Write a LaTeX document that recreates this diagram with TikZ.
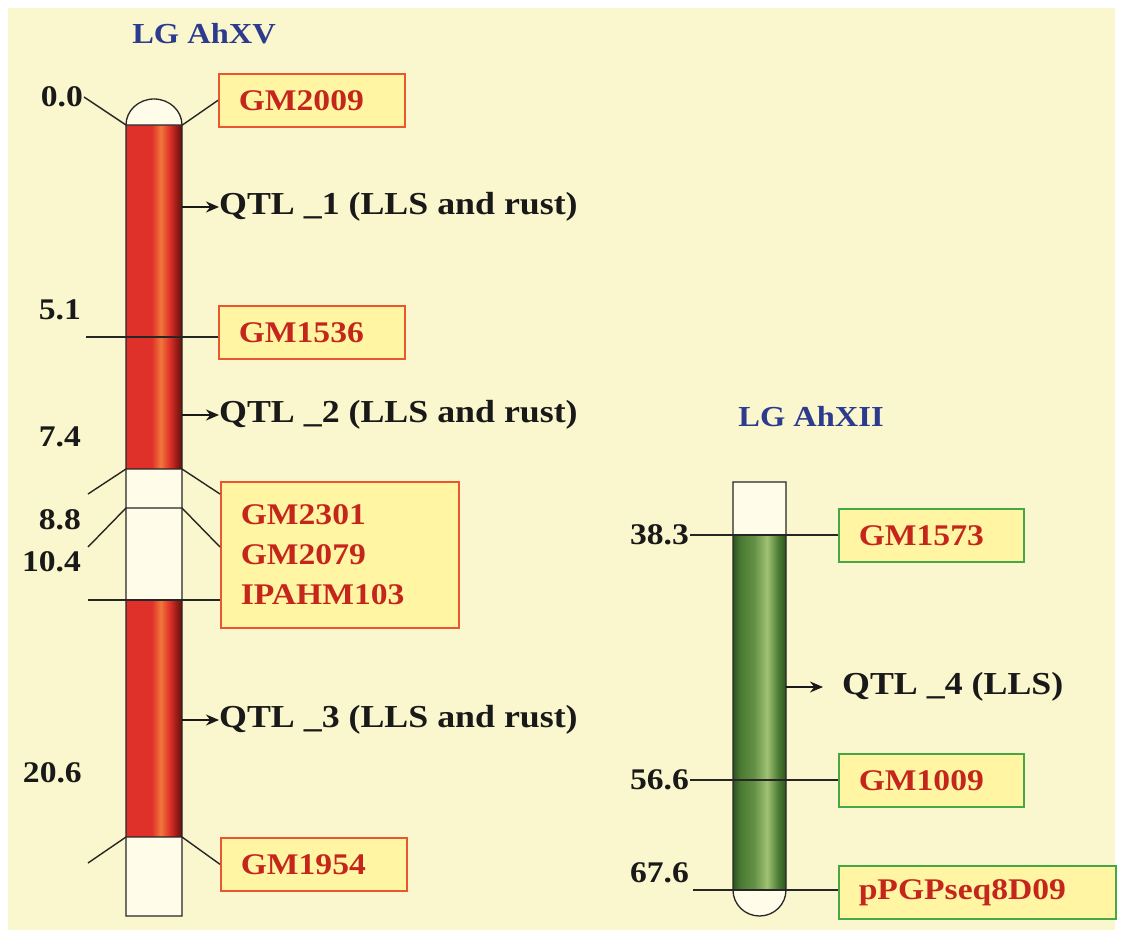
\documentclass[tikz,border=0pt]{standalone}
\usepackage{fontspec}
\setmainfont{Liberation Serif}[FakeStretch=1.12]
\usetikzlibrary{positioning,arrows.meta}
\definecolor{mapbg}{HTML}{FAF6CD}
\definecolor{boxfill}{HTML}{FFF5A3}
\definecolor{markred}{HTML}{C4261C}
\definecolor{edgered}{HTML}{E9562F}
\definecolor{edgegreen}{HTML}{45A845}
\definecolor{titleblue}{HTML}{2D3B8E}
\definecolor{chromred}{HTML}{E0302A}
\definecolor{chromglow}{HTML}{F0773A}
\definecolor{chromdark}{HTML}{6A100C}
\definecolor{chromgreen}{HTML}{4A7A32}
\definecolor{chromlime}{HTML}{A0C274}
\definecolor{chromforest}{HTML}{2E5420}
\definecolor{chromnull}{HTML}{FFFDE9}
\pgfdeclarehorizontalshading{redbar}{100bp}{color(0bp)=(chromred); color(25bp)=(chromred); color(48bp)=(chromred); color(56bp)=(chromglow); color(64bp)=(chromred); color(71bp)=(chromdark!70!chromred); color(75bp)=(chromdark); color(100bp)=(chromdark)}
\pgfdeclarehorizontalshading{greenbar}{100bp}{color(0bp)=(chromforest); color(25bp)=(chromforest); color(32bp)=(chromgreen); color(45bp)=(chromgreen!70!chromlime); color(57bp)=(chromlime); color(68bp)=(chromgreen); color(75bp)=(chromforest); color(100bp)=(chromforest)}

\begin{document}
\begin{tikzpicture}[x=1pt, y=-1pt,
  >={Stealth[length=13pt, width=11pt]},
  num/.style={font=\fontsize{30}{34}\selectfont\bfseries, text=black!90, inner sep=1pt, anchor=east},
  title/.style={font=\fontsize{29}{32}\selectfont\bfseries, text=titleblue},
  markR/.style={draw=edgered, line width=1.6pt, fill=boxfill, text=markred, font=\fontsize{30}{40}\selectfont\bfseries, anchor=north west, align=left, inner xsep=20pt, inner ysep=0pt, minimum height=53pt, text width=146pt},
  markG/.style={markR, draw=edgegreen},
  qtl/.style={font=\fontsize{32}{36}\selectfont\bfseries, text=black!90, anchor=west, inner sep=0pt},
  link/.style={line width=1.4pt, black!85},
  qarrow/.style={->, line width=1.8pt, black!90},
  outline/.style={line width=1.3pt, black!85}
]
\fill[white] (0,0) rectangle (1122,932);
\fill[mapbg] (8,8) rectangle (1115,930);

\node[minimum width=56pt, minimum height=791pt, inner sep=0pt, anchor=north west] (xv) at (126,125) {};
\node[minimum width=53pt, minimum height=355pt, inner sep=0pt, anchor=north west] (xii) at (733,535) {};

\shade[shading=redbar] (126,125) rectangle (182,469);
\fill[chromnull] (126,469) rectangle (182,600);
\shade[shading=redbar] (126,600) rectangle (182,837);
\fill[chromnull] (126,837) rectangle (182,916);
\fill[chromnull] (126,125) arc[start angle=180, end angle=360, x radius=28, y radius=26] -- cycle;
\draw[outline] (126,916) -- (126,125) arc[start angle=180, end angle=360, x radius=28, y radius=26] -- (182,916) -- cycle;

\fill[chromnull] (733,482) rectangle (786,535);
\shade[shading=greenbar] (733,535) rectangle (786,890);
\fill[chromnull] (733,890) arc[start angle=180, end angle=0, x radius=26.5, y radius=26] -- cycle;
\draw[outline] (733,890) -- (733,482) -- (786,482) -- (786,890) arc[start angle=0, end angle=180, x radius=26.5, y radius=26];

\node[title] (t15) at (204,34) {LG AhXV};
\node[title] (t12) at (811,417) {LG AhXII};

\node[num] (n00) at (84,97) {0.0};
\node[num] (n51) at (82,310) {5.1};
\node[num] (n74) at (82,437) {7.4};
\node[num] (n88) at (82,520) {8.8};
\node[num] (n104) at (82,562) {10.4};
\node[num] (n206) at (83,773) {20.6};
\node[num] (n383) at (690,535) {38.3};
\node[num] (n566) at (690,780) {56.6};
\node[num] (n676) at (690,873) {67.6};

\coordinate (c51) at (86,337);
\coordinate (c74) at (88,494);
\coordinate (c88) at (88,547);
\coordinate (c104) at (88,600);
\coordinate (c206) at (88,863);
\coordinate (c676) at (693,890);

\node[markR] (m2009) at (218,73) {GM2009};
\node[markR] (m1536) at (218,305) {GM1536};
\node[markR, text width=198pt, minimum height=146pt] (mgrp) at (220,481) {GM2301\\GM2079\\IPAHM103};
\node[markR] (m1954) at (220,837) {GM1954};
\node[markG, text width=145pt] (m1573) at (838,508) {GM1573};
\node[markG, text width=145pt] (m1009) at (838,753) {GM1009};
\node[markG, text width=237pt] (mseq) at (838,865) {pPGPseq8D09};

\node[qtl] (q1) at (219,207) {QTL \_1 (LLS and rust)};
\node[qtl] (q2) at (219,415) {QTL \_2 (LLS and rust)};
\node[qtl] (q3) at (219,720) {QTL \_3 (LLS and rust)};
\node[qtl] (q4) at (842,687) {QTL \_4 (LLS)};

\draw[link] (n00.east) -- (xv.north west) -- (xv.north east) -- (m2009.west);
\draw[link] (c51) -- (c51 -| m1536.west);
\draw[link] (c74) -- (126,469) -- (182,469) -- (mgrp.west |- c74);
\draw[link] (c88) -- (126,508) -- (182,508) -- (mgrp.west |- c88);
\draw[link] (c104) -- (mgrp.west |- c104);
\draw[link] (c206) -- (126,837) -- (182,837) -- (m1954.west);
\draw[link] (n383.east) -- (n383.east -| m1573.west);
\draw[link] (n566.east) -- (n566.east -| m1009.west);
\draw[link] (c676) -- (c676 -| mseq.west);

\draw[qarrow] (xv.east |- q1.west) -- (q1.west);
\draw[qarrow] (xv.east |- q2.west) -- (q2.west);
\draw[qarrow] (xv.east |- q3.west) -- (q3.west);
\draw[qarrow] (xii.east |- q4.west) -- ([xshift=-19pt]q4.west);
\end{tikzpicture}
\end{document}
